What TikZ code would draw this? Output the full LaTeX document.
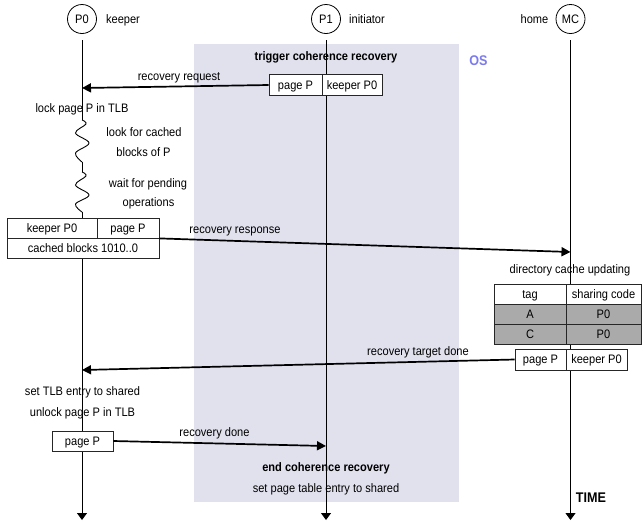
\documentclass[tikz,border=0pt]{standalone}
\usepackage{fontspec}
\setmainfont{Liberation Sans}[FakeStretch=0.9]
\usetikzlibrary{arrows.meta}
\definecolor{osshade}{HTML}{E1E1EE}
\definecolor{osblue}{HTML}{7B7BEE}
\definecolor{rowgray}{HTML}{AAAAAA}
\begin{document}
\begin{tikzpicture}[x=1pt,y=-1pt,
  font=\fontsize{12.3}{14}\selectfont,
  every node/.style={inner sep=0pt,text height=8.8pt,text depth=0pt},
  proc/.style={circle,draw,line width=0.8pt,minimum size=29pt},
  lifeline/.style={line width=0.9pt},
  lifeend/.style={line width=0.9pt,-{Triangle[length=7pt,width=10pt]}},
  msg/.style={line width=1.7pt,-{Triangle[length=9pt,width=9pt]}},
  cell/.style={draw=black!85,line width=0.8pt,fill=white,minimum height=20pt,align=center},
  graycell/.style={cell,fill=rowgray},
  bold/.style={font=\fontsize{12.3}{14}\selectfont\bfseries}]
\useasboundingbox (0,0) rectangle (642,523);
% OS region
\fill[osshade] (194,44) rectangle (459,502);
\node[font=\fontsize{14}{16}\selectfont\bfseries,text=osblue,text height=10pt] (os) at (478.5,60.5) {OS};
\node[bold] (trig) at (326,56) {trigger coherence recovery};
\node[bold] (endrec) at (326,467) {end coherence recovery};
\node (setpt) at (326,488) {set page table entry to shared};
% processes
\node[proc] (p0) at (82,19) {P0};
\node[proc] (p1) at (326,19) {P1};
\node[proc] (mc) at (570.5,19) {MC};
\node (keeper) at (123,19) {keeper};
\node (initiator) at (367,19) {initiator};
\node (home) at (534.5,19) {home};
% lifeline coordinates
\coordinate (p0top) at (82,40);
\coordinate (p0end) at (82,520);
\coordinate (p1top) at (326,40);
\coordinate (p1end) at (326,520);
\coordinate (mctop) at (570.5,40);
\coordinate (mcend) at (570.5,520);
\coordinate (w1a) at (82,120);
\coordinate (w1b) at (82,162);
\coordinate (w2a) at (82,172);
\coordinate (w2b) at (82,212);
\draw[lifeline] (p0top) -- (w1a);
\draw[lifeline] plot[smooth,tension=0.6] coordinates {(82,120) (86,124) (75.5,133) (89,143) (75.5,153) (82,162)};
\draw[lifeline] (w1b) -- (w2a);
\draw[lifeline] plot[smooth,tension=0.6] coordinates {(82,172) (86,176) (75.5,185) (89,195) (75.5,204) (82,212)};
\draw[lifeend] (w2b) -- (p0end);
\draw[lifeend] (p1top) -- (p1end);
\draw[lifeend] (mctop) -- (mcend);
% recovery request box
\node[cell,minimum width=53pt,minimum height=21.5pt] (rqpage) at (295.5,85) {page P};
\node[cell,minimum width=60pt,minimum height=21.5pt] (rqkeep) at (352,85) {keeper P0};
% keeper box
\node[cell,minimum width=90pt] (kkeep) at (52,228) {keeper P0};
\node[cell,minimum width=62pt] (kpage) at (128,228) {page P};
\node[cell,minimum width=152pt] (kblocks) at (83,248) {cached blocks 1010..0};
% directory table
\node[cell,minimum width=72pt] (ttag) at (530,294) {tag};
\node[cell,minimum width=75pt] (tcode) at (603.5,294) {sharing code};
\node[graycell,minimum width=72pt] (ta) at (530,314) {A};
\node[graycell,minimum width=75pt] (tap) at (603.5,314) {P0};
\node[graycell,minimum width=72pt] (tc) at (530,334) {C};
\node[graycell,minimum width=75pt] (tcp) at (603.5,334) {P0};
% target done box
\node[cell,minimum width=51pt,minimum height=21pt] (tdpage) at (540.5,359.5) {page P};
\node[cell,minimum width=61pt,minimum height=21pt] (tdkeep) at (596.5,359.5) {keeper P0};
% page P box
\node[cell,minimum width=61pt] (dpage) at (82.5,441) {page P};
% texts
\node (lock) at (82,108) {lock page P in TLB};
\node (look) at (144,132) {look for cached};
\node (blocks) at (143.5,152) {blocks of P};
\node (wait) at (148,183) {wait for pending};
\node (ops) at (148.5,202) {operations};
\node (dcu) at (570,269) {directory cache updating};
\node (settlb) at (82.5,391) {set TLB entry to shared};
\node (unlock) at (82.5,412) {unlock page P in TLB};
\node[font=\fontsize{14}{16}\selectfont\bfseries,text height=10pt] (time) at (591,497) {TIME};
% messages
\coordinate (rqend) at (82,88);
\coordinate (rsend) at (570.5,252);
\coordinate (tdend) at (82,370);
\coordinate (dend) at (326,446);
\draw[msg] (rqpage.west) -- (rqend);
\draw[msg] (kpage.south east) -- (rsend);
\draw[msg] (tdpage.west) -- (tdend);
\draw[msg] (dpage.east) -- (dend);
\node (lrq) at (179,76) {recovery request};
\node (lrs) at (235,229) {recovery response};
\node (ltd) at (418,351) {recovery target done};
\node (ld) at (214.5,432) {recovery done};
\end{tikzpicture}
\end{document}
